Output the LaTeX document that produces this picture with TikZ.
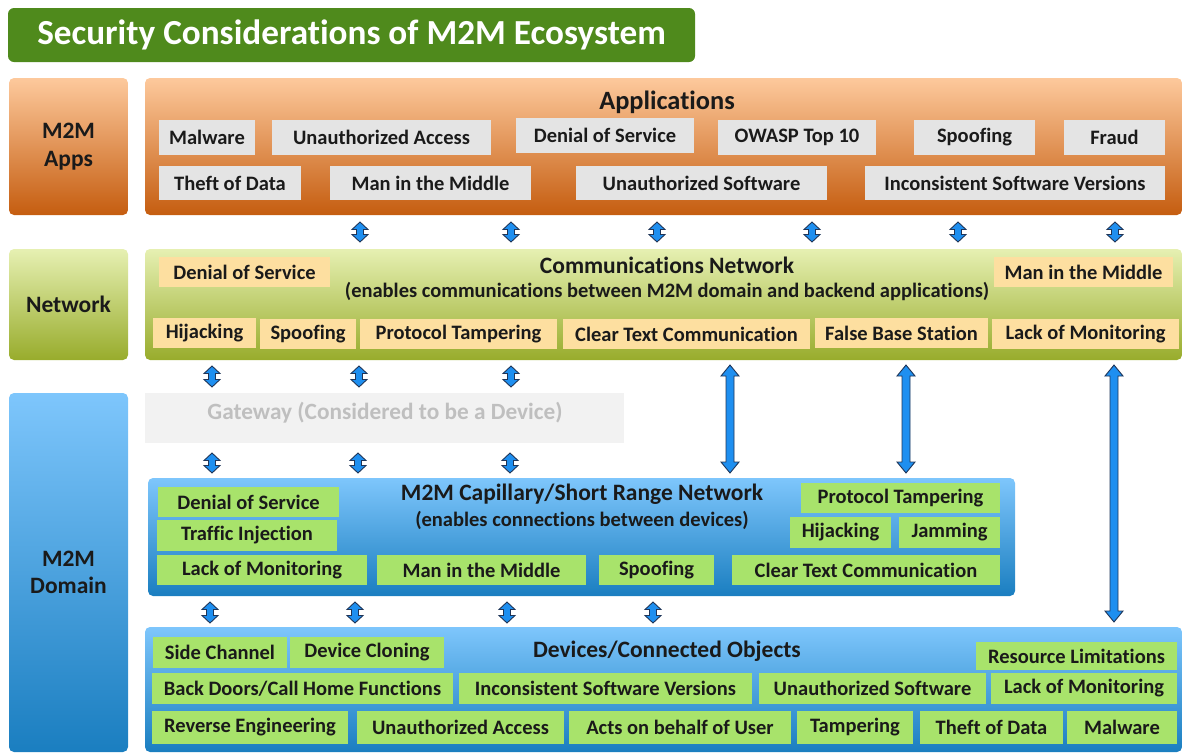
\documentclass[tikz,border=0pt]{standalone}
\usepackage{fontspec}
\setmainfont{Carlito}[Ligatures=CommonOff]
\definecolor{txt}{HTML}{1A1A1A}
\definecolor{titlegreen}{HTML}{4F8A1C}
\definecolor{orT}{HTML}{FDC99C}
\definecolor{orB}{HTML}{C55D10}
\definecolor{grT}{HTML}{E6F0B2}
\definecolor{grB}{HTML}{98AC2C}
\definecolor{blT}{HTML}{7EC6FC}
\definecolor{blB}{HTML}{1A7EC0}
\definecolor{grayitem}{HTML}{E4E4E4}
\definecolor{peach}{HTML}{FDDFA0}
\definecolor{lime}{HTML}{A8E36B}
\definecolor{gwfill}{HTML}{F2F2F2}
\definecolor{gwtext}{HTML}{BFBFBF}
\definecolor{arrfill}{HTML}{1E8FF0}
\definecolor{arrline}{HTML}{1F3558}
\newcommand\bx[7]{\node[#6,minimum width={(#4)-(#2)},minimum height={(#5)-(#3)}] (#1) at ({((#2)+(#4))/2},{((#3)+(#5))/2}) {#7};}
\newcommand\varrow[6]{\draw[arr] ({#1-#4},{#2+#6}) -- ({#1-#5},{#2+#6}) -- (#1,#2) -- ({#1+#5},{#2+#6}) -- ({#1+#4},{#2+#6}) -- ({#1+#4},{#3-#6}) -- ({#1+#5},{#3-#6}) -- (#1,#3) -- ({#1-#5},{#3-#6}) -- ({#1-#4},{#3-#6}) -- cycle;}
\newcommand\sarr[3]{\varrow{#1}{#2}{#3}{3.5}{8}{7.5}}
\newcommand\larr[3]{\varrow{#1}{#2}{#3}{4}{9}{11}}
\tikzset{
  base/.style={inner sep=0pt,outer sep=0pt,text=txt,align=center,font=\bfseries\fontsize{20.5}{23}\selectfont},
  gitem/.style={base,fill=grayitem},
  pitem/.style={base,fill=peach},
  litem/.style={base,fill=lime},
  obox/.style={base,rounded corners=5pt,top color=orT,bottom color=orB},
  gbox/.style={base,rounded corners=5pt,top color=grT,bottom color=grB},
  bbox/.style={base,rounded corners=5pt,top color=blT,bottom color=blB},
  sidelabel/.style={font=\bfseries\fontsize{23.5}{27.5}\selectfont},
  layertitle/.style={base,font=\bfseries\fontsize{23.5}{26}\selectfont},
  layersub/.style={base,font=\bfseries\fontsize{20.5}{23}\selectfont},
  arr/.style={fill=arrfill,draw=arrline,line width=0.9pt,line join=miter},
}
\begin{document}
\begin{tikzpicture}[x=1pt,y=-1pt]
\useasboundingbox (0,0) rectangle (1183,753);
% title
\bx{title}{8}{8}{695}{62}{base,rounded corners=6pt,fill=titlegreen,text=white,font=\bfseries\fontsize{35.2}{40}\selectfont}{Security Considerations of M2M Ecosystem}
% side labels
\bx{sApps}{9}{78}{128}{215}{obox,sidelabel}{M2M\\Apps}
\bx{sNet}{9}{249}{128}{360}{gbox,sidelabel}{Network}
\bx{sDom}{9}{393}{128}{752}{bbox,sidelabel}{M2M\\Domain}
% layer boxes
\bx{apps}{145}{78}{1182}{215}{obox}{}
\bx{net}{145}{249}{1182}{360}{gbox}{}
\bx{gw}{145}{393}{624}{443}{base,fill=gwfill}{}
\node[base,text=gwtext,font=\bfseries\fontsize{23.3}{26}\selectfont] (gwT) at (385,413) {Gateway (Considered to be a Device)};
\bx{cap}{148}{478}{1015}{596}{bbox}{}
\bx{dev}{145}{627}{1182}{752}{bbox}{}
% titles
\node[layertitle,font=\bfseries\fontsize{26.4}{30}\selectfont] (appsT) at (667,102) {Applications};
\node[layertitle] (netT) at (667,265) {Communications Network};
\node[layersub] (netS) at (667,291) {(enables communications between M2M domain and backend applications)};
\node[layertitle] (capT) at (582,494) {M2M Capillary/Short Range Network};
\node[layersub] (capS) at (582,520) {(enables connections between devices)};
\node[layertitle] (devT) at (667,651) {Devices/Connected Objects};
% applications items
\bx{a1}{159}{120}{255}{155}{gitem}{Malware}
\bx{a2}{272}{120}{491}{155}{gitem}{Unauthorized Access}
\bx{a3}{516}{118}{694}{153}{gitem}{Denial of Service}
\bx{a4}{718}{120}{876}{155}{gitem}{OWASP Top 10}
\bx{a5}{914}{120}{1035}{155}{gitem}{Spoofing}
\bx{a6}{1064}{120}{1165}{155}{gitem}{Fraud}
\bx{a7}{159}{166}{301}{200}{gitem}{Theft of Data}
\bx{a8}{330}{166}{531}{200}{gitem}{Man in the Middle}
\bx{a9}{576}{166}{827}{200}{gitem}{Unauthorized Software}
\bx{a10}{865}{166}{1165}{200}{gitem}{Inconsistent Software Versions}
% network items
\bx{n1}{159}{257}{330}{287}{pitem}{Denial of Service}
\bx{n2}{994}{257}{1173}{287}{pitem}{Man in the Middle}
\bx{n3}{153}{318}{256}{348}{pitem}{Hijacking}
\bx{n4}{260}{319}{356}{349}{pitem}{Spoofing}
\bx{n5}{360}{319}{557}{349}{pitem}{Protocol Tampering}
\bx{n6}{563}{319}{810}{349}{pitem}{Clear Text Communication}
\bx{n7}{815}{318}{988}{348}{pitem}{False Base Station}
\bx{n8}{992}{319}{1179}{349}{pitem}{Lack of Monitoring}
% capillary items
\bx{c1}{158}{487}{339}{517}{litem}{Denial of Service}
\bx{c2}{157}{520}{337}{551}{litem}{Traffic Injection}
\bx{c3}{157}{555}{367}{585}{litem}{Lack of Monitoring}
\bx{c4}{377}{555}{586}{585}{litem}{Man in the Middle}
\bx{c5}{599}{555}{714}{585}{litem}{Spoofing}
\bx{c6}{732}{555}{1000}{585}{litem}{Clear Text Communication}
\bx{c7}{801}{483}{1000}{513}{litem}{Protocol Tampering}
\bx{c8}{790}{517}{891}{548}{litem}{Hijacking}
\bx{c9}{899}{517}{1000}{548}{litem}{Jamming}
% device items
\bx{d1}{153}{637}{287}{668}{litem}{Side Channel}
\bx{d2}{290}{637}{444}{668}{litem}{Device Cloning}
\bx{d3}{976}{642}{1177}{670}{litem}{Resource Limitations}
\bx{d4}{152}{673}{453}{704}{litem}{Back Doors/Call Home Functions}
\bx{d5}{459}{673}{752}{704}{litem}{Inconsistent Software Versions}
\bx{d6}{759}{673}{986}{704}{litem}{Unauthorized Software}
\bx{d7}{991}{673}{1177}{704}{litem}{Lack of Monitoring}
\bx{d8}{152}{711}{348}{744}{litem}{Reverse Engineering}
\bx{d9}{357}{711}{564}{744}{litem}{Unauthorized Access}
\bx{d10}{569}{711}{791}{744}{litem}{Acts on behalf of User}
\bx{d11}{797}{711}{913}{744}{litem}{Tampering}
\bx{d12}{920}{711}{1063}{744}{litem}{Theft of Data}
\bx{d13}{1067}{711}{1177}{744}{litem}{Malware}
% arrows apps <-> network
\sarr{360}{222}{242}
\sarr{511}{222}{242}
\sarr{657}{222}{242}
\sarr{812}{222}{242}
\sarr{958}{222}{242}
\sarr{1115}{222}{242}
% arrows network <-> gateway
\sarr{212}{366}{387}
\sarr{359}{366}{387}
\sarr{511}{366}{387}
% arrows gateway <-> capillary
\sarr{212}{453}{473}
\sarr{358}{453}{473}
\sarr{510}{453}{473}
% long arrows
\larr{730}{365}{473}
\larr{906}{365}{473}
\larr{1114}{365}{622}
% arrows capillary <-> devices
\sarr{210}{602}{623}
\sarr{355}{602}{623}
\sarr{507}{602}{623}
\sarr{653}{602}{623}
\end{tikzpicture}
\end{document}
